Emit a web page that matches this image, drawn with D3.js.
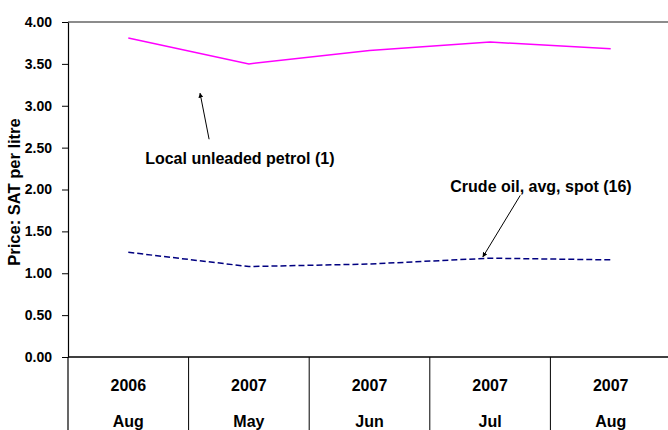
<!DOCTYPE html>
<html>
<head>
<meta charset="utf-8">
<script src="https://cdn.jsdelivr.net/npm/d3@7"></script>
<style>
  body { margin: 0; background: #fff; }
  svg { display: block; font-family: "Liberation Sans", Arial, sans-serif; font-weight: bold; }
</style>
</head>
<body>
<div id="chart"></div>
<script>
// Price of local petrol vs crude oil
const years = ["2006", "2007", "2007", "2007", "2007"];
const months = ["Aug", "May", "Jun", "Jul", "Aug"];
const petrol = [3.81, 3.50, 3.66, 3.76, 3.68];
const crude = [1.25, 1.08, 1.11, 1.18, 1.16];
const yTicks = [0, 0.5, 1, 1.5, 2, 2.5, 3, 3.5, 4];

// annotation anchors in data units (category index, value)
const notes = [
    { text: "Local unleaded petrol (1)", tx: 0.14, tv: 2.31, from: [0.67, 2.60], to: [0.595, 3.15] },
    { text: "Crude oil, avg, spot (16)", tx: 2.67, tv: 1.97, from: [3.25, 1.93], to: [2.94, 1.195] }
];

{
    const W = 668, H = 430;
    const margin = { top: 22, left: 68 };
    const plotBottom = 357;
    const plotRight = 671;

    const svg = d3.select("#chart").append("svg")
        .attr("width", W)
        .attr("height", H);

    const idx = d3.range(years.length);
    const x = d3.scaleBand().domain(idx).range([margin.left, plotRight]).padding(0);
    const y = d3.scaleLinear().domain([0, 4]).range([plotBottom, margin.top]);
    const xi = i => x(0) + x.bandwidth() / 2 + i * x.step();

    svg.append("defs").append("marker")
        .attr("id", "arrow")
        .attr("viewBox", "0 0 10 10")
        .attr("refX", 9).attr("refY", 5)
        .attr("markerWidth", 5).attr("markerHeight", 5)
        .attr("markerUnits", "userSpaceOnUse")
        .attr("orient", "auto")
        .append("path")
        .attr("d", "M0,0L10,5L0,10z")
        .attr("fill", "#000");

    // top border
    svg.append("line")
        .attr("x1", margin.left).attr("x2", W)
        .attr("y1", y(4)).attr("y2", y(4))
        .attr("stroke", "#666").attr("stroke-width", 1.5);

    // y axis
    const yAxis = svg.append("g")
        .attr("transform", `translate(${margin.left},0)`)
        .call(d3.axisLeft(y).tickValues(yTicks).tickFormat(d3.format(".2f")).tickSize(6).tickSizeOuter(0));
    yAxis.select(".domain").attr("stroke", "#000").attr("stroke-width", 1.2);
    yAxis.selectAll("line").attr("stroke", "#000");
    yAxis.selectAll("text")
        .attr("x", -16)
        .attr("fill", "#000")
        .style("font-size", "14px")
        .style("font-weight", "bold")
        .style("font-family", "Liberation Sans, Arial, sans-serif");

    // left axis continues down through the category table
    svg.append("line")
        .attr("x1", margin.left).attr("x2", margin.left)
        .attr("y1", plotBottom).attr("y2", H)
        .attr("stroke", "#000").attr("stroke-width", 1.2);

    // x axis line
    svg.append("line")
        .attr("x1", margin.left).attr("x2", W)
        .attr("y1", plotBottom).attr("y2", plotBottom)
        .attr("stroke", "#000").attr("stroke-width", 1.5);

    // category dividers
    svg.selectAll(".divider")
        .data(idx.slice(1))
        .join("line")
        .attr("class", "divider")
        .attr("x1", d => x(d)).attr("x2", d => x(d))
        .attr("y1", plotBottom).attr("y2", H)
        .attr("stroke", "#000").attr("stroke-width", 1);

    svg.selectAll(".year")
        .data(idx)
        .join("text")
        .attr("class", "year")
        .attr("x", d => x(d) + x.bandwidth() / 2)
        .attr("y", 391)
        .attr("text-anchor", "middle")
        .style("font-size", "16px")
        .text(d => years[d]);

    svg.selectAll(".month")
        .data(idx)
        .join("text")
        .attr("class", "month")
        .attr("x", d => x(d) + x.bandwidth() / 2)
        .attr("y", 427)
        .attr("text-anchor", "middle")
        .style("font-size", "16px")
        .text(d => months[d]);

    // y title
    svg.append("text")
        .attr("transform", "translate(20,192) rotate(-90)")
        .attr("text-anchor", "middle")
        .style("font-size", "16.5px")
        .text("Price: SAT per litre");

    const line = d3.line()
        .x((d, i) => xi(i))
        .y(d => y(d));

    svg.append("path")
        .datum(petrol)
        .attr("fill", "none")
        .attr("stroke", "#ff00ff")
        .attr("stroke-width", 1.5)
        .attr("d", line);

    svg.append("path")
        .datum(crude)
        .attr("fill", "none")
        .attr("stroke", "#000080")
        .attr("stroke-width", 1.5)
        .attr("stroke-dasharray", "6,3")
        .attr("d", line);

    // annotations
    notes.forEach(n => {
        svg.append("line")
            .attr("x1", xi(n.from[0])).attr("y1", y(n.from[1]))
            .attr("x2", xi(n.to[0])).attr("y2", y(n.to[1]))
            .attr("stroke", "#000").attr("stroke-width", 1)
            .attr("marker-end", "url(#arrow)");
        svg.append("text")
            .attr("x", xi(n.tx))
            .attr("y", y(n.tv))
            .style("font-size", "16px")
            .text(n.text);
    });
}
</script>
</body>
</html>
